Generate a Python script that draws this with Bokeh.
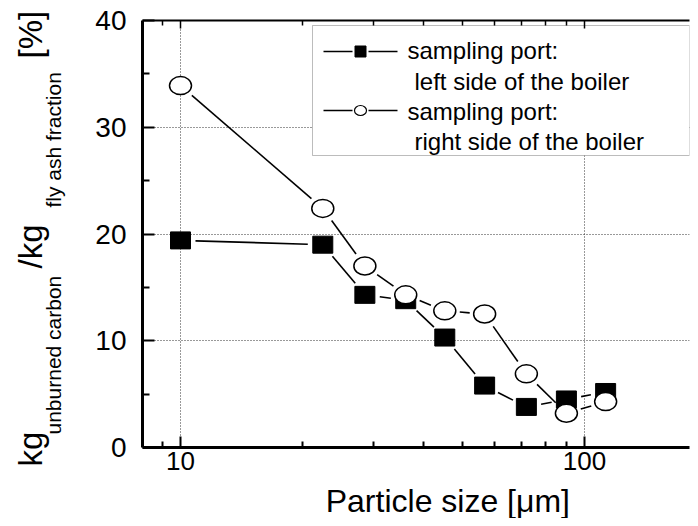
import numpy as np
from bokeh.plotting import figure
from bokeh.layouts import row, column
from bokeh.models import (LogAxis, FixedTicker, Label, BoxAnnotation, BasicTickFormatter,
                          Range1d, ColumnDataSource)
from bokeh.core.properties import value
from bokeh.embed import file_html
from bokeh.resources import INLINE

# ---------------- data ----------------
particle_size = [10, 22.5, 28.6, 36.1, 45.1, 56.6, 71.8, 90.2, 112.8]
left_side = [19.4, 19.0, 14.3, 13.8, 10.3, 5.8, 3.8, 4.5, 5.2]
right_side = [33.9, 22.4, 17.0, 14.3, 12.8, 12.5, 6.9, 3.2, 4.3]
x_major_ticks = [10, 100]
x_minor_ticks = [9, 20, 30, 40, 50, 60, 70, 80, 90]
y_major_ticks = [0, 10, 20, 30, 40]
y_minor_ticks = [5, 15, 25, 35]
legend_labels = [["sampling port:", "left side of the boiler"],
                 ["sampling port:", "right side of the boiler"]]
x_title = "Particle size [\u03bcm]"
y_title_parts = ["kg", "unburned carbon", "/kg", "fly ash fraction", "[%]"]

# ---------------- layout ----------------
TOTAL_W, TOTAL_H = 690, 518
STRIP_W = 72                 # left strip holding the y title
MAIN_W = TOTAL_W - STRIP_W
MAIN_H = 482
BOT_H = TOTAL_H - MAIN_H     # bottom strip holding the x title
ML, MR, MT, MB = 70, 1, 20, 35
FW, FH = MAIN_W - ML - MR, MAIN_H - MT - MB
GX0 = STRIP_W + ML           # global x of frame left
DECADE = 404.0
LX0 = 1 - 38 / DECADE
LX1 = LX0 + FW / DECADE
XMIN, XMAX = 10 ** LX0, 10 ** LX1
YMIN, YMAX = 0, 40
FONT = "Liberation Sans"
MID = 0.35                   # baseline -> middle offset, in em


def px2x(px):  # global pixel -> data x
    return float(10 ** (LX0 + (px - GX0) / FW * (LX1 - LX0)))


def py2y(py):  # global pixel -> data y
    return float(YMAX - (py - MT) / FH * (YMAX - YMIN))


def to_screen(x, y):
    return ((np.log10(x) - LX0) / (LX1 - LX0) * FW, (y - YMIN) / (YMAX - YMIN) * FH)


def from_screen(sx, sy):
    return (10 ** (LX0 + sx / FW * (LX1 - LX0)), YMIN + sy / FH * (YMAX - YMIN))


def gapped(xs, ys, gap):
    out = [[], [], [], []]
    for i in range(len(xs) - 1):
        ax, ay = to_screen(xs[i], ys[i])
        bx, by = to_screen(xs[i + 1], ys[i + 1])
        dx, dy = bx - ax, by - ay
        L = np.hypot(dx, dy)
        if L <= 2 * gap:
            continue
        ux, uy = dx / L, dy / L
        p0 = from_screen(ax + ux * gap, ay + uy * gap)
        p1 = from_screen(bx - ux * gap, by - uy * gap)
        out[0].append(float(p0[0])); out[1].append(float(p0[1]))
        out[2].append(float(p1[0])); out[3].append(float(p1[1]))
    return out


p = figure(width=MAIN_W, height=MAIN_H, x_axis_type="log", x_range=(XMIN, XMAX),
           y_range=(YMIN, YMAX), output_backend="svg", toolbar_location=None,
           min_border_left=ML, min_border_right=MR, min_border_top=MT, min_border_bottom=MB)
p.outline_line_color = None
p.background_fill_color = "white"
p.border_fill_color = "white"

# grid
p.xgrid.ticker = FixedTicker(ticks=x_major_ticks)
p.ygrid.ticker = FixedTicker(ticks=y_major_ticks)
for g in (p.xgrid, p.ygrid):
    g.grid_line_color = "#333333"
    g.grid_line_dash = "1 2"
    g.grid_line_width = 1
    g.grid_line_alpha = 1.0

# x axis
xa = p.xaxis[0]
xa.ticker = FixedTicker(ticks=x_major_ticks, minor_ticks=x_minor_ticks)
xa.formatter = BasicTickFormatter()
xa.axis_line_width = 3
xa.major_tick_in = 11
xa.major_tick_out = 0
xa.minor_tick_in = 6
xa.minor_tick_out = 0
xa.major_tick_line_width = 2
xa.minor_tick_line_width = 2
xa.major_label_text_font = FONT
xa.major_label_text_font_size = "26px"
xa.major_label_text_color = "black"
xa.major_label_standoff = 4

# y axis
ya = p.yaxis[0]
ya.ticker = FixedTicker(ticks=y_major_ticks, minor_ticks=y_minor_ticks)
ya.axis_line_width = 3
ya.major_tick_in = 12
ya.major_tick_out = 0
ya.minor_tick_in = 7
ya.minor_tick_out = 0
ya.major_tick_line_width = 2
ya.minor_tick_line_width = 2
ya.major_label_text_font = FONT
ya.major_label_text_font_size = "28px"
ya.major_label_text_color = "black"
ya.major_label_standoff = 16

# top axis (frame line with inward ticks, no labels)
top = LogAxis(ticker=FixedTicker(ticks=x_major_ticks, minor_ticks=x_minor_ticks),
              major_label_text_font_size="2px", major_label_text_alpha=0.0, major_label_standoff=0,
              axis_line_width=2, major_tick_in=8, major_tick_out=0,
              minor_tick_in=5, minor_tick_out=0,
              major_tick_line_width=1.5, minor_tick_line_width=1.5)
p.add_layout(top, "above")

# data: left side (filled rectangles)
s = gapped(particle_size, left_side, 15)
p.segment(s[0], s[1], s[2], s[3], line_color="black", line_width=1.6)
p.rect(particle_size, left_side, width=20, height=17, width_units="screen", height_units="screen",
       fill_color="black", line_color="black")

# data: right side (open ellipses)
s = gapped(particle_size, right_side, 15)
p.segment(s[0], s[1], s[2], s[3], line_color="black", line_width=1.6)
p.ellipse(particle_size, right_side, width=22, height=18, width_units="screen", height_units="screen",
          fill_color="white", line_color="black", line_width=1.5)

# legend
box = BoxAnnotation(left=px2x(312), right=px2x(689), top=py2y(25), bottom=py2y(155),
                    fill_color="white", fill_alpha=1.0, line_color="#222222", line_width=1,
                    level="underlay")
p.add_layout(box)
rows_py = [51, 110]
p.segment([px2x(323)] * 2, [py2y(v) for v in rows_py], [px2x(352)] * 2, [py2y(v) for v in rows_py],
          line_color="black", line_width=1.5)
p.segment([px2x(368)] * 2, [py2y(v) for v in rows_py], [px2x(397)] * 2, [py2y(v) for v in rows_py],
          line_color="black", line_width=1.5)
p.rect([px2x(360)], [py2y(rows_py[0])], width=11, height=11, width_units="screen", height_units="screen",
       fill_color="black", line_color="black")
p.ellipse([px2x(360)], [py2y(rows_py[1])], width=12, height=10, width_units="screen",
          height_units="screen", fill_color="white", line_color="black", line_width=1.2)
LEG_FS = 24
text_rows = [(407, 58, legend_labels[0][0]), (414, 89, legend_labels[0][1]),
             (407, 119, legend_labels[1][0]), (414, 149, legend_labels[1][1])]
for tx, ty, t in text_rows:
    p.add_layout(Label(x=px2x(tx), y=py2y(ty - MID * LEG_FS), text=t, text_font=FONT,
                       text_font_size=f"{LEG_FS}px", text_color="black",
                       text_baseline="middle", text_align="left"))


def strip(w, h):
    f = figure(width=w, height=h, x_range=Range1d(0, w), y_range=Range1d(h, 0),
               output_backend="svg", toolbar_location=None, x_axis_location=None,
               y_axis_location=None, min_border=0)
    f.grid.visible = False
    f.outline_line_color = None
    f.background_fill_color = "white"
    f.border_fill_color = "white"
    return f


# left strip: y title pieces, rotated (x = middle line, y = start of text)
BIG, SUB = 33, 21
left = strip(STRIP_W, TOTAL_H)
big = ColumnDataSource(dict(x=[42 - MID * BIG] * 3, y=[466, 268, 58],
                            t=[y_title_parts[0], y_title_parts[2], y_title_parts[4]]))
sub = ColumnDataSource(dict(x=[60 - MID * SUB] * 2, y=[434, 207],
                            t=[y_title_parts[1], y_title_parts[3]]))
left.text(x="x", y="y", text="t", source=big, angle=float(np.pi / 2), text_font=value(FONT),
          text_font_size=value(f"{BIG}px"), text_color="black", text_baseline="middle",
          text_align="left")
left.text(x="x", y="y", text="t", source=sub, angle=float(np.pi / 2), text_font=value(FONT),
          text_font_size=value(f"{SUB}px"), text_color="black", text_baseline="middle",
          text_align="left")

# bottom strip: x title (centred vertically in the strip)
XT = 32
bottom = strip(MAIN_W, BOT_H)
bottom.text(x=[417 - STRIP_W], y=[BOT_H / 2], text=[x_title], text_font=value(FONT),
            text_font_size=value(f"{XT}px"), text_color="black", text_baseline="middle",
            text_align="center")

layout = row(left, column(p, bottom, spacing=0), spacing=0)
open("out.html", "w").write(file_html(layout, INLINE))
